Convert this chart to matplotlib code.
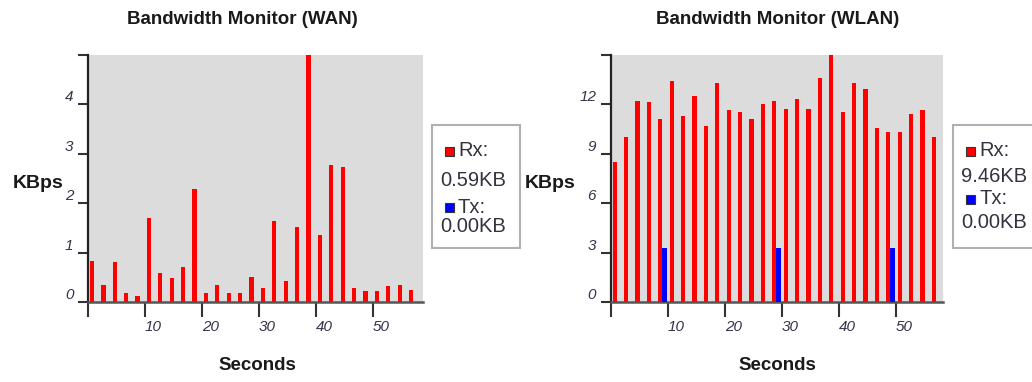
import numpy as np
import matplotlib.pyplot as plt
from matplotlib.patches import Rectangle

# Datos (KBps por muestra)
wan_rx = [0.83, 0.35, 0.80, 0.18, 0.12, 1.71, 0.59, 0.48, 0.71, 2.29,
          0.18, 0.35, 0.18, 0.18, 0.51, 0.28, 1.63, 0.43, 1.52, 5.00,
          1.35, 2.78, 2.73, 0.28, 0.22, 0.22, 0.32, 0.35, 0.25]
wan_tx = [0.0] * 29

wlan_rx = [8.53, 10.04, 12.22, 12.12, 11.14, 13.43, 11.31, 12.53, 10.71, 13.31,
           11.63, 11.53, 11.14, 12.00, 12.22, 11.73, 12.33, 11.73, 13.63, 15.00,
           11.51, 13.31, 12.94, 10.55, 10.31, 10.31, 11.41, 11.63, 10.04]
wlan_tx = [0, 0, 0, 0, 3.3, 0, 0, 0, 0, 0,
           0, 0, 0, 0, 3.3, 0, 0, 0, 0, 0,
           0, 0, 0, 0, 3.3, 0, 0, 0, 0]

seconds = np.arange(29) * 2 + 0.7
xticks = [0, 10, 20, 30, 40, 50]
xticklabels = ['', '10', '20', '30', '40', '50']

W, H = 1032, 382
fig = plt.figure(figsize=(W / 100, H / 100), dpi=100)
plt.rcParams['font.family'] = ['Liberation Sans', 'DejaVu Sans']

lbl_color = '#34344a'


def fx(px):
    return px / W


def fy(py):
    return 1 - py / H


def monitor(x0, x1, rx, tx, ymax, ystep, xmax, title, rx_txt, tx_txt,
            leg_x, leg_lines, ylab_x, title_x, sec_x):
    ax = fig.add_axes([fx(x0), fy(302), fx(x1 - x0), (302 - 55) / H])
    ax.set_facecolor('#dcdcdc')
    ax.bar(seconds, rx, width=0.75, color='#ff0000', zorder=2)
    ax.bar(seconds + 0.75, tx, width=0.75, color='#0000ff', zorder=3)
    ax.set_xlim(0, xmax)
    ax.set_ylim(0, ymax)
    yt = np.arange(0, ymax + 0.01, ystep)
    ax.set_yticks(yt)
    ax.set_yticklabels([f'{v:g}' for v in yt[:-1]] + [''])
    ax.set_xticks(xticks)
    ax.set_xticklabels(xticklabels)
    for s in ['top', 'right']:
        ax.spines[s].set_visible(False)
    ax.spines['left'].set_color('#222222')
    ax.spines['left'].set_linewidth(1.6)
    ax.spines['bottom'].set_color('#555555')
    ax.spines['bottom'].set_linewidth(1.8)
    ax.tick_params(axis='y', length=7.5, width=1.5, color='#333333', pad=3,
                   labelsize=11, labelcolor=lbl_color)
    ax.tick_params(axis='x', length=11, width=1.5, color='#333333', pad=2,
                   labelsize=11, labelcolor=lbl_color)
    for t in ax.get_yticklabels():
        t.set_verticalalignment('bottom')
        t.set_style('italic')
    for t in ax.get_xticklabels():
        t.set_horizontalalignment('left')
        t.set_style('italic')

    fig.text(fx(title_x), fy(19), title, ha='center', va='center',
             fontsize=13.5, fontweight='bold', color='#1a1a1a')
    fig.text(fx(sec_x), fy(366), 'Seconds', ha='center', va='center',
             fontsize=13.5, fontweight='bold', color='#1a1a1a')
    fig.text(fx(ylab_x), fy(183), 'KBps', ha='left', va='center',
             fontsize=14, fontweight='bold', color='#1a1a1a')

    # caja de leyenda
    fig.add_artist(Rectangle((fx(leg_x), fy(248)), fx(88), (248 - 125) / H,
                             transform=fig.transFigure, facecolor='white',
                             edgecolor='#b0b0b0', lw=1.5))
    y_rx, y_rxv, y_tx, y_txv = leg_lines
    for yy, col in [(y_rx, '#ff0000'), (y_tx, '#0000ff')]:
        fig.add_artist(Rectangle((fx(leg_x + 13), fy(yy + 4.5)), fx(9), 9 / H,
                                 transform=fig.transFigure, facecolor=col,
                                 edgecolor='#333333', lw=0.8))
    kw = dict(ha='left', va='center', fontsize=14.5, color='#333340')
    fig.text(fx(leg_x + 26), fy(y_rx), 'Rx:', **kw)
    fig.text(fx(leg_x + 8), fy(y_rxv), rx_txt, **kw)
    fig.text(fx(leg_x + 26), fy(y_tx), 'Tx:', **kw)
    fig.text(fx(leg_x + 8), fy(y_txv), tx_txt, **kw)
    return ax


monitor(88, 423, wan_rx, wan_tx, 5, 1, 58.8, 'Bandwidth Monitor (WAN)',
        '0.59KB', '0.00KB', 432, (151, 181, 207, 227), 13, 242, 257)
monitor(610.7, 943, wlan_rx, wlan_tx, 15, 3, 58.3, 'Bandwidth Monitor (WLAN)',
        '9.46KB', '0.00KB', 953, (151, 177, 199, 222), 525, 778, 777)

fig.savefig('out.png', dpi=100)
